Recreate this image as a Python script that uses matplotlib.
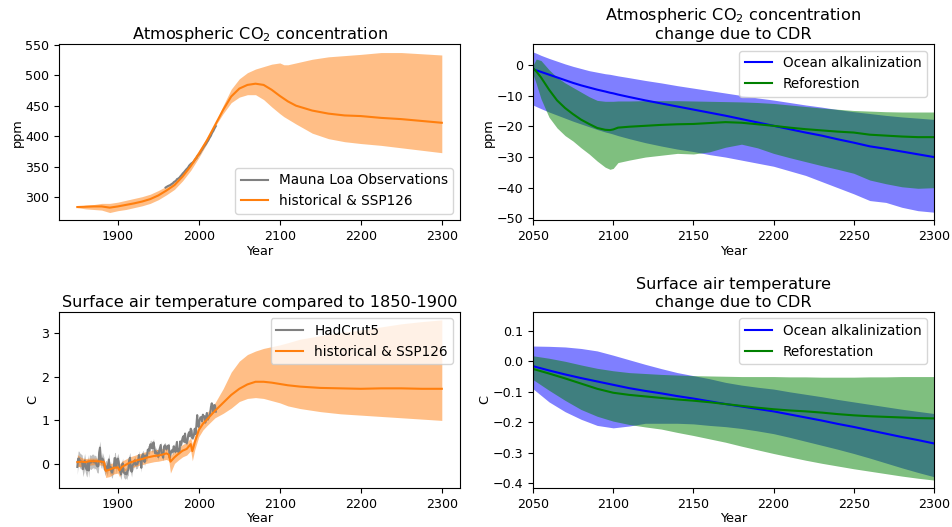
import numpy as np
import matplotlib
matplotlib.use("Agg")
import matplotlib.pyplot as plt

# ---------------- Atmospheric CO2: historical & SSP126 ensemble ----------------
co2_years = [1850, 1860, 1870, 1880, 1890, 1900, 1910, 1920, 1930, 1940, 1950, 1960,
             1970, 1980, 1990, 2000, 2010, 2020, 2030, 2040, 2050, 2060, 2070, 2080,
             2090, 2100, 2105, 2110, 2120, 2140, 2160, 2180, 2200, 2225, 2250, 2275, 2300]
co2_mid = [284, 284.5, 285, 285, 283, 285, 287.5, 290, 293, 297, 303, 311,
           320, 334, 351, 371, 393, 418, 443, 465, 478, 484, 486, 484,
           476, 466, 461.5, 457, 450, 442, 437, 434, 433, 430, 428, 425, 422]
co2_high = [285, 287, 288, 290, 290, 292, 295, 298, 301, 305, 311, 318,
            327, 341, 357, 377, 398, 420, 450, 477, 494, 504, 510, 514,
            518, 520, 517, 517, 520, 526, 530, 532, 534, 537, 537, 535, 533]
co2_low = [283, 281, 280, 279, 275, 278, 280, 283, 286, 290, 296, 304,
           313, 327, 344, 365, 388, 416, 437, 455, 464, 468, 468, 460,
           448, 437, 432, 428, 420, 405, 396, 391, 388, 385, 381, 377, 373]

# Mauna Loa annual mean CO2 (ppm)
ml_years = list(range(1959, 2022))
ml_co2 = [315.98, 316.91, 317.64, 318.45, 318.99, 319.62, 320.04, 321.37, 322.18, 323.05,
          324.62, 325.68, 326.32, 327.46, 329.68, 330.19, 331.13, 332.03, 333.84, 335.41,
          336.84, 338.76, 340.12, 341.48, 343.15, 344.87, 346.35, 347.61, 349.31, 351.69,
          353.20, 354.45, 355.70, 356.54, 357.21, 358.96, 360.97, 362.74, 363.88, 366.84,
          368.54, 369.71, 371.32, 373.45, 375.98, 377.70, 379.98, 382.09, 384.02, 385.83,
          387.64, 390.10, 391.85, 394.06, 396.74, 398.81, 401.01, 404.41, 406.76, 408.72,
          411.66, 414.24, 416.45]

# ---------------- Surface air temperature vs 1850-1900 ----------------
t_years = [1850, 1855, 1860, 1865, 1870, 1875, 1880, 1883, 1885, 1890,
           1895, 1900, 1902, 1905, 1910, 1915, 1920, 1925, 1930, 1935,
           1940, 1945, 1950, 1955, 1960, 1963, 1965, 1970, 1975, 1980,
           1985, 1990, 1992, 1995, 2000, 2005, 2010, 2015, 2020, 2030,
           2040, 2050, 2060, 2070, 2080, 2090, 2100, 2110, 2125, 2150,
           2175, 2200, 2225, 2250, 2275, 2300]
t_mid = [0.05, 0.06, 0.05, 0.07, 0.07, 0.07, 0.06, 0.05, -0.15, -0.12,
         -0.08, -0.07, -0.14, -0.06, -0.01, 0.04, 0.07, 0.10, 0.12, 0.15,
         0.17, 0.19, 0.20, 0.22, 0.25, 0.22, 0.06, 0.16, 0.24, 0.31,
         0.35, 0.46, 0.30, 0.50, 0.78, 0.92, 1.02, 1.12, 1.22, 1.40,
         1.58, 1.72, 1.82, 1.88, 1.88, 1.86, 1.83, 1.80, 1.77, 1.74,
         1.73, 1.72, 1.73, 1.73, 1.72, 1.72]
t_high = [0.22, 0.15, 0.13, 0.14, 0.14, 0.14, 0.13, 0.12, -0.02, 0.01,
          0.04, 0.05, 0.00, 0.07, 0.12, 0.17, 0.20, 0.23, 0.26, 0.29,
          0.31, 0.33, 0.34, 0.36, 0.38, 0.36, 0.20, 0.30, 0.38, 0.45,
          0.50, 0.60, 0.46, 0.65, 0.92, 1.06, 1.17, 1.29, 1.40, 1.72,
          2.10, 2.35, 2.50, 2.58, 2.64, 2.68, 2.72, 2.77, 2.85, 2.93,
          3.00, 3.06, 3.13, 3.20, 3.25, 3.29]
t_low = [-0.05, -0.05, -0.04, -0.02, -0.01, -0.01, -0.02, -0.03, -0.30, -0.28,
         -0.22, -0.20, -0.28, -0.19, -0.14, -0.09, -0.06, -0.03, -0.01, 0.02,
         0.04, 0.06, 0.07, 0.09, 0.11, 0.08, -0.20, 0.02, 0.10, 0.17,
         0.21, 0.31, 0.08, 0.33, 0.63, 0.78, 0.88, 0.97, 1.06, 1.16,
         1.28, 1.43, 1.50, 1.52, 1.50, 1.45, 1.40, 1.33, 1.27, 1.20,
         1.15, 1.12, 1.09, 1.06, 1.03, 1.00]

# HadCRUT5 annual global mean anomaly relative to 1850-1900 (C)
had_years = list(range(1850, 2022))
had_t = [-0.06, 0.13, 0.13, 0.09, 0.07, 0.06, 0.04, -0.11, -0.03, 0.08,
         -0.03, -0.10, -0.13, 0.06, -0.14, 0.06, 0.05, 0.04, 0.07, 0.07,
         0.08, 0.04, 0.06, 0.04, -0.03, -0.05, -0.04, 0.27, 0.38, 0.09,
         0.04, 0.13, 0.07, 0.01, -0.12, -0.06, -0.05, -0.13, -0.01, 0.11,
         -0.12, -0.06, -0.16, -0.19, -0.10, -0.08, 0.14, 0.14, -0.07, 0.05,
         0.13, 0.05, -0.07, -0.17, -0.23, -0.06, 0.02, -0.17, -0.20, -0.22,
         -0.19, -0.23, -0.15, -0.13, 0.09, 0.15, -0.08, -0.17, -0.04, 0.00,
         0.03, 0.09, -0.01, 0.01, 0.00, 0.06, 0.21, 0.09, 0.09, -0.08,
         0.19, 0.23, 0.19, 0.05, 0.20, 0.15, 0.19, 0.33, 0.34, 0.31,
         0.45, 0.46, 0.37, 0.37, 0.50, 0.39, 0.25, 0.29, 0.25, 0.25,
         0.17, 0.30, 0.37, 0.44, 0.24, 0.21, 0.15, 0.40, 0.43, 0.40,
         0.34, 0.41, 0.40, 0.43, 0.15, 0.24, 0.30, 0.32, 0.28, 0.41,
         0.36, 0.28, 0.39, 0.51, 0.29, 0.35, 0.26, 0.52, 0.44, 0.52,
         0.60, 0.64, 0.51, 0.70, 0.51, 0.48, 0.54, 0.68, 0.73, 0.64,
         0.81, 0.77, 0.59, 0.62, 0.67, 0.81, 0.69, 0.88, 1.12, 0.87,
         0.85, 1.01, 1.07, 1.07, 0.98, 1.13, 1.08, 1.09, 0.95, 1.09,
         1.17, 1.02, 1.06, 1.10, 1.16, 1.31, 1.39, 1.28, 1.19, 1.35,
         1.34, 1.20]
# 95% half-range of the HadCRUT5 ensemble, one value per decade from the 1850s
had_unc_decadal = [0.17, 0.16, 0.15, 0.14, 0.13, 0.12, 0.12, 0.10, 0.09,
                   0.09, 0.07, 0.06, 0.05, 0.05, 0.04, 0.04, 0.03, 0.03]

# ---------------- CO2 change due to CDR ----------------
cdr_years = [2050, 2052, 2055, 2060, 2065, 2070, 2075, 2080, 2085, 2090, 2095, 2098,
             2100, 2103, 2110, 2120, 2130, 2140, 2150, 2160, 2170, 2180, 2190, 2200,
             2210, 2220, 2230, 2240, 2250, 2260, 2270, 2280, 2290, 2300]
oae_co2_mid = [-1.3, -1.7, -2.2, -3.1, -4.0, -4.9, -5.8, -6.6, -7.3, -8.0, -8.6, -9.0,
               -9.2, -9.6, -10.4, -11.5, -12.5, -13.5, -14.5, -15.5, -16.5, -17.6, -18.7, -19.8,
               -20.9, -22.0, -23.0, -24.2, -25.3, -26.5, -27.3, -28.2, -29.1, -30.0]
oae_co2_high = [4.3, 3.9, 3.2, 2.2, 1.3, 0.4, -0.4, -1.1, -1.8, -2.3, -2.8, -3.0,
                -3.2, -3.5, -4.1, -5.0, -5.8, -6.7, -7.5, -8.3, -9.1, -9.9, -10.7, -11.4,
                -12.2, -13.0, -13.7, -14.5, -15.2, -15.8, -16.4, -16.9, -17.3, -17.7]
oae_co2_low = [-13.0, -13.5, -14.2, -15.3, -16.3, -17.3, -18.3, -19.2, -20.1, -21.0, -21.8, -22.2,
               -22.5, -23.0, -24.0, -25.3, -26.4, -27.4, -28.2, -29.2, -30.0, -31.0, -32.0, -33.0,
               -34.5, -36.0, -38.0, -40.0, -42.0, -44.2, -44.8, -46.4, -47.5, -48.0]
ref_co2_mid = [-1.0, -2.0, -4.0, -8.0, -11.5, -14.0, -16.0, -17.8, -19.2, -20.5, -21.1, -21.2,
               -21.0, -20.4, -20.1, -19.8, -19.5, -19.3, -19.2, -18.9, -18.6, -18.8, -19.3, -19.8,
               -20.4, -20.9, -21.3, -21.7, -22.0, -22.7, -23.0, -23.3, -23.5, -23.5]
ref_co2_high = [0.0, 2.0, 1.5, -1.5, -4.0, -5.8, -7.3, -8.8, -10.3, -11.5, -11.8, -11.8,
                -11.8, -11.7, -11.7, -11.6, -11.6, -11.6, -11.7, -11.8, -11.9, -12.0, -12.2, -12.5,
                -13.0, -13.5, -14.0, -14.4, -14.8, -15.0, -15.2, -15.3, -15.3, -15.3]
ref_co2_low = [-3.0, -6.0, -11.0, -17.0, -20.5, -23.0, -24.8, -27.0, -29.0, -31.3, -33.3, -34.0,
               -33.7, -31.8, -31.0, -30.0, -29.4, -28.8, -29.0, -28.3, -26.8, -25.8, -27.0, -28.8,
               -30.2, -31.5, -32.8, -34.0, -35.3, -37.5, -38.7, -39.7, -40.2, -40.0]

# ---------------- Temperature change due to CDR ----------------
cdr_t_years = [2050, 2060, 2070, 2080, 2090, 2100, 2110, 2120, 2130, 2140, 2150, 2160, 2170,
               2180, 2190, 2200, 2210, 2220, 2230, 2240, 2250, 2260, 2270, 2280, 2290, 2300]
oae_t_mid = [-0.016, -0.030, -0.043, -0.055, -0.066, -0.077, -0.088, -0.097, -0.105, -0.114,
             -0.122, -0.131, -0.140, -0.148, -0.156, -0.164, -0.174, -0.184, -0.194, -0.205,
             -0.215, -0.226, -0.237, -0.248, -0.258, -0.269]
oae_t_high = [0.050, 0.049, 0.047, 0.042, 0.034, 0.020, 0.005, -0.010, -0.024, -0.037,
              -0.047, -0.057, -0.069, -0.078, -0.085, -0.091, -0.100, -0.108, -0.116, -0.125,
              -0.133, -0.141, -0.149, -0.157, -0.164, -0.171]
oae_t_low = [-0.090, -0.133, -0.165, -0.190, -0.210, -0.218, -0.212, -0.203, -0.203, -0.203,
             -0.205, -0.210, -0.214, -0.220, -0.228, -0.237, -0.249, -0.262, -0.275, -0.288,
             -0.302, -0.317, -0.333, -0.349, -0.364, -0.378]
ref_t_mid = [-0.025, -0.040, -0.056, -0.073, -0.090, -0.103, -0.110, -0.115, -0.120, -0.125,
             -0.129, -0.134, -0.140, -0.146, -0.152, -0.157, -0.161, -0.164, -0.168, -0.173,
             -0.177, -0.180, -0.182, -0.184, -0.186, -0.187]
ref_t_high = [0.018, 0.010, 0.000, -0.012, -0.023, -0.031, -0.037, -0.040, -0.043, -0.045,
              -0.047, -0.048, -0.049, -0.050, -0.050, -0.050, -0.051, -0.051, -0.052, -0.052,
              -0.052, -0.051, -0.051, -0.050, -0.050, -0.050]
ref_t_low = [-0.060, -0.095, -0.128, -0.158, -0.180, -0.196, -0.207, -0.215, -0.222, -0.233,
             -0.243, -0.254, -0.265, -0.278, -0.290, -0.302, -0.313, -0.324, -0.334, -0.343,
             -0.352, -0.360, -0.368, -0.376, -0.383, -0.389]

plt.rcParams['font.size'] = 9.3
plt.rcParams['xtick.labelsize'] = 9.1
plt.rcParams['ytick.labelsize'] = 9.1
plt.rcParams['legend.fontsize'] = 9.8
plt.rcParams['axes.titlesize'] = 11.6
plt.rcParams['axes.titlepad'] = 3.5
plt.rcParams['axes.labelpad'] = 1.2

fig, axes = plt.subplots(2, 2, figsize=(9.53, 5.27), dpi=100)
fig.subplots_adjust(left=0.062, right=0.980, top=0.9165, bottom=0.074,
                    wspace=0.182, hspace=0.516)
ax_co2, ax_dco2 = axes[0]
ax_t, ax_dt = axes[1]

# Atmospheric CO2
ax_co2.fill_between(co2_years, co2_low, co2_high, color='C1', alpha=0.5, lw=0)
ax_co2.plot(ml_years, ml_co2, color='gray', label='Mauna Loa Observations')
ax_co2.plot(co2_years, co2_mid, color='C1', label='historical & SSP126')
ax_co2.set_title('Atmospheric CO$_2$ concentration')
ax_co2.set_ylabel('ppm')
ax_co2.set_xlabel('Year')
ax_co2.set_xlim(1827.5, 2322.5)
ax_co2.set_ylim(262, 551)
ax_co2.legend(loc='lower right')

# Surface air temperature
had = np.array(had_t)
had_unc = np.repeat(had_unc_decadal, 10)[:len(had)]
ax_t.plot(had_years, had, color='gray', label='HadCrut5')
ax_t.fill_between(had_years, had - had_unc, had + had_unc, color='gray', alpha=0.5, lw=0)
ax_t.fill_between(t_years, t_low, t_high, color='C1', alpha=0.5, lw=0)
ax_t.plot(t_years, t_mid, color='C1', label='historical & SSP126')
ax_t.set_title('Surface air temperature compared to 1850-1900')
ax_t.set_ylabel('C')
ax_t.set_xlabel('Year')
ax_t.set_xlim(1827.5, 2322.5)
ax_t.set_ylim(-0.54, 3.48)
ax_t.legend(loc='upper right')

# CO2 change due to CDR
ax_dco2.fill_between(cdr_years, oae_co2_low, oae_co2_high, color='blue', alpha=0.5, lw=0)
ax_dco2.fill_between(cdr_years, ref_co2_low, ref_co2_high, color='green', alpha=0.5, lw=0)
ax_dco2.plot(cdr_years, oae_co2_mid, color='blue', label='Ocean alkalinization')
ax_dco2.plot(cdr_years, ref_co2_mid, color='green', label='Reforestion')
ax_dco2.set_title('Atmospheric CO$_2$ concentration\nchange due to CDR')
ax_dco2.set_ylabel('ppm')
ax_dco2.set_xlabel('Year')
ax_dco2.set_xlim(2050, 2300)
ax_dco2.set_ylim(-50.7, 6.9)
ax_dco2.legend(loc='upper right')

# Temperature change due to CDR
ax_dt.fill_between(cdr_t_years, oae_t_low, oae_t_high, color='blue', alpha=0.5, lw=0)
ax_dt.fill_between(cdr_t_years, ref_t_low, ref_t_high, color='green', alpha=0.5, lw=0)
ax_dt.plot(cdr_t_years, oae_t_mid, color='blue', label='Ocean alkalinization')
ax_dt.plot(cdr_t_years, ref_t_mid, color='green', label='Reforestation')
ax_dt.set_title('Surface air temperature\nchange due to CDR')
ax_dt.set_ylabel('C')
ax_dt.set_xlabel('Year')
ax_dt.set_xlim(2050, 2300)
ax_dt.set_ylim(-0.415, 0.163)
ax_dt.legend(loc='upper right')

fig.savefig('out.png', dpi=100)
